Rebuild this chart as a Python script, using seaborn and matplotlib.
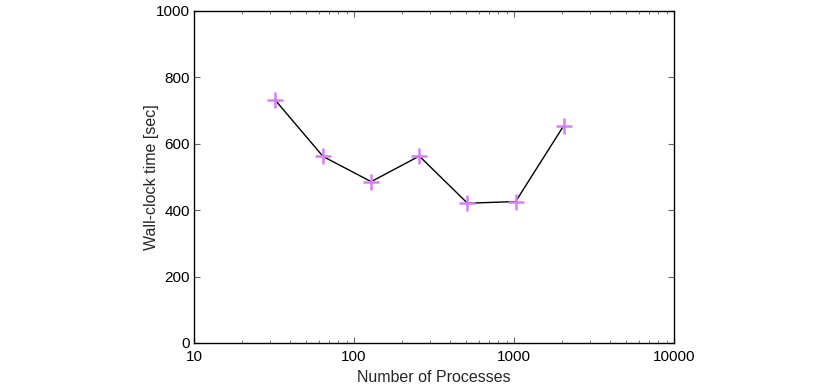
import numpy as np
import pandas as pd
import seaborn as sns
import matplotlib.pyplot as plt
from matplotlib.ticker import LogLocator, FixedLocator, NullLocator, FuncFormatter

# processes vs wall-clock time
PROCS = [32, 64, 128, 256, 512, 1024, 2048]
WALL_TIME = [733, 562, 486, 563, 421, 426, 655]

X_TICKS = [10, 100, 1000, 10000]
Y_TICKS = [0, 200, 400, 600, 800, 1000]

sns.set_style('ticks')
plt.rcParams['font.family'] = ['Liberation Sans', 'DejaVu Sans']
plt.rcParams['font.size'] = 9

df = pd.DataFrame({'procs': PROCS, 'time': WALL_TIME})

fig = plt.figure(figsize=(8.3, 3.88), dpi=100)
ax = fig.add_axes([194 / 830, 1 - 343 / 388, 480 / 830, 332 / 388])

sns.lineplot(data=df, x='procs', y='time', ax=ax, color='black', linewidth=1.0)
ax.plot(df['procs'], df['time'], linestyle='none', marker='+',
        markersize=11, markeredgewidth=1.8, color='#d67ff7', zorder=3)

ax.set_xscale('log')
ax.set_xlim(10, 10000)
ax.set_ylim(0, 1000)
ax.xaxis.set_major_locator(FixedLocator(X_TICKS))
ax.xaxis.set_minor_locator(LogLocator(base=10, subs=np.arange(2, 10)))
ax.xaxis.set_major_formatter(FuncFormatter(lambda v, p: '%d' % v))
ax.yaxis.set_major_locator(FixedLocator(Y_TICKS))
ax.yaxis.set_minor_locator(NullLocator())

ax.tick_params(which='both', direction='in', top=True, right=True, labelsize=11, colors='black')
ax.tick_params(which='major', length=4, width=0.8, color='#666666')
ax.tick_params(which='minor', length=2, width=0.6, color='#666666')
ax.tick_params(axis='y', pad=3)
ax.tick_params(axis='x', pad=5)
for s in ax.spines.values():
    s.set_visible(True)
    s.set_color('black')
    s.set_linewidth(1.0)

ax.set_xlabel('Number of Processes', fontsize=11.5, labelpad=4)
ax.set_ylabel('Wall-clock time [sec]', fontsize=11.5, labelpad=-2)

fig.savefig('out.png', dpi=100)
